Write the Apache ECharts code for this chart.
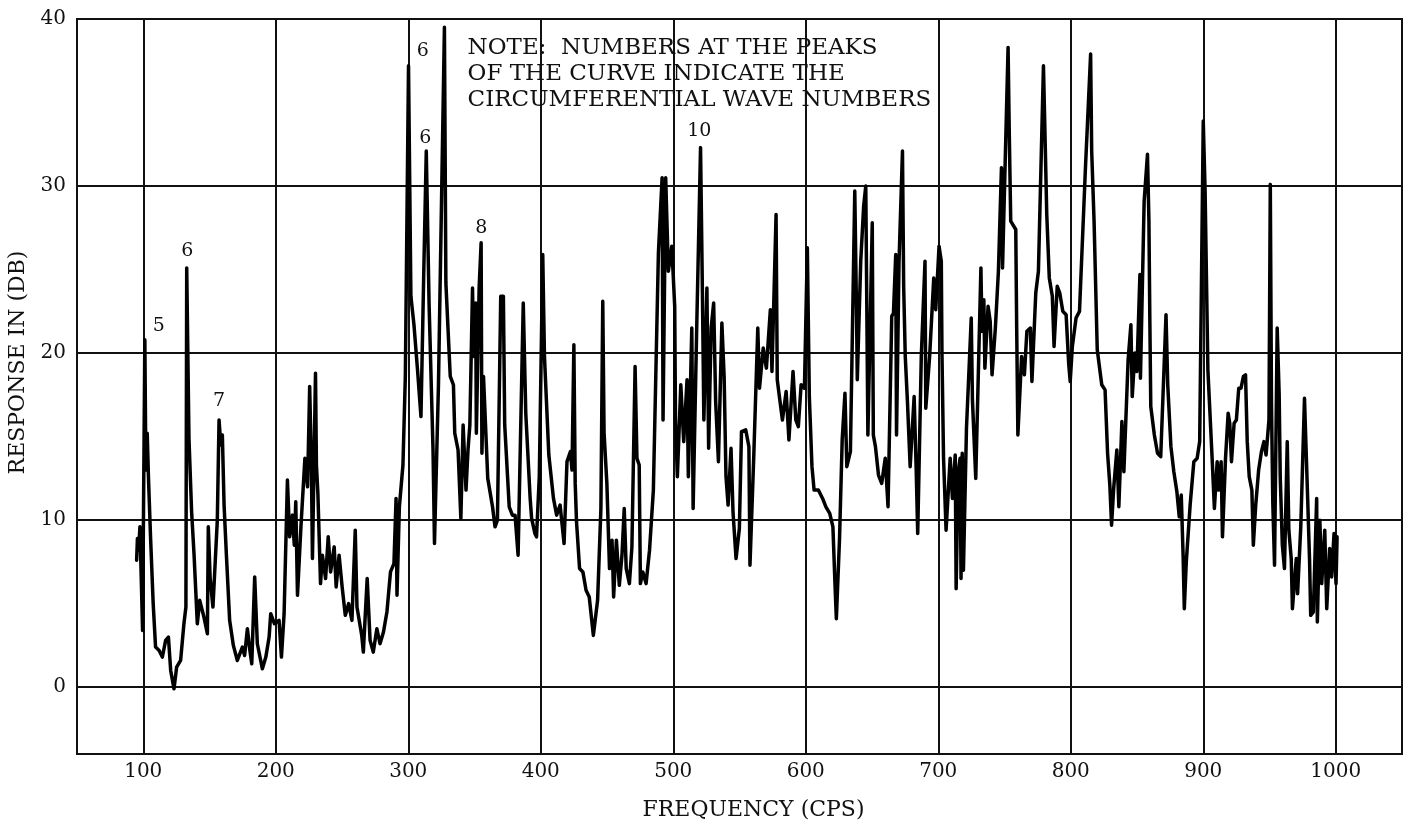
<!DOCTYPE html>
<html>
<head>
<meta charset="utf-8">
<script src="https://cdn.jsdelivr.net/npm/echarts@6/dist/echarts.min.js"></script>
<style>
html,body{margin:0;padding:0;background:#fff;}
#chart{width:1412px;height:820px;}
</style>
</head>
<body>
<div id="chart"></div>
<script>
// ---- data (frequency in CPS, response in DB) ----
const curveA = [[95,7.6],[95.6,8.9],[96.5,8.2],[97.5,9.6],[99.5,3.4],[101.2,20.8],[102,13],[103,15.2],[104,12.4],[105.5,9],[107.5,5],[109.3,2.4],[112,2.2],[114.4,1.8],[116.9,2.8],[119,3.0],[120.7,1.0],[123.2,-0.1],[125.2,1.2],[128.2,1.6],[130.7,3.8],[132.2,4.8],[132.8,25.1],[134.5,14.9],[136.5,10.5],[138.3,8],[140.8,3.8],[142.6,5.2],[145.8,4.2],[148.4,3.2],[149.1,9.6],[150.5,6.5],[152.6,4.8],[155.9,10],[157.2,16],[158.5,14.5],[159.7,15.1],[161,10.9],[162.7,8],[165.2,4],[168,2.5],[171,1.6],[174.8,2.4],[176.5,1.9],[178.6,3.5],[180.5,2.2],[181.9,1.4],[184.1,6.6],[186.1,2.6],[189.9,1.1],[192.5,1.8],[195,3],[196.2,4.4],[199,3.8],[202.5,4],[204.3,1.8],[206.3,4.4],[208.8,12.4],[210.5,9],[212.6,10.3],[214,8.5],[215.1,11.1]];
const curveB = [[216.4,5.5],[219,9.6],[222,13.7],[224,12],[225.6,18],[226.9,13.3],[227.7,7.7],[230,18.8],[230.7,13.3],[231.8,11.6],[233.8,6.2],[235.2,7.9],[237.6,6.5],[239.6,9],[241.4,6.9],[244.1,8.4],[245.6,6],[247.8,7.9],[250.1,6],[252.5,4.3],[255,5],[257.5,4],[260,9.4],[261.3,4.8],[264.9,3.1],[266.1,2.1],[269,6.5],[271.2,2.8],[273.6,2.1],[276.3,3.5],[278.7,2.6],[281.3,3.3],[283.9,4.5],[286.6,6.9],[289.2,7.4],[290.8,11.3],[291.5,5.5],[293.3,10.8],[296,13.3],[297.8,18.6],[300.2,37.2],[302,23.4],[304.3,21.7],[307,19],[309.6,16.2],[311.6,24.4],[313.6,32.1],[315.7,23],[318.7,14.2],[319.8,8.6],[322.8,18.1],[327.3,39.5],[328.4,24.2],[331.7,18.6],[334.1,18.1],[335.1,15.2],[337.6,14.2],[339.7,10.1],[341.4,15.7],[343.6,11.8],[345.1,14.2],[346.5,15.7],[348.5,23.9],[349.4,19.8],[350.9,23],[351.4,15.2],[353.5,23.9],[355,26.6],[355.6,14],[356.8,18.6],[360,12.5],[363.6,10.8],[365.5,9.6],[367.3,10],[369.8,23.4],[371.8,23.4],[372.8,15.7],[376.2,10.8],[378.6,10.3],[380.6,10.3],[382.9,7.9],[386.8,23],[388.7,16.4]];
const curveC = [[392,11.3],[393.1,10.1],[395.6,9.2],[396.8,9],[398.9,12.6],[401.5,25.9],[402.8,19.8],[406.1,13.9],[409.6,11.3],[412,10.3],[414.6,10.9],[417.6,8.6],[419.8,13.5],[422.4,14.1],[423.6,13],[425,20.5],[426,12.2],[427,9.9],[429.3,7.1],[431.8,6.9],[434.2,5.8],[436.6,5.4],[439.7,3.1],[442.9,5.2],[445.4,10.7],[446.8,23.1],[447.8,15.2],[449.9,12.2],[451.9,7.1],[453.8,8.8],[455,5.4],[457.1,8.8],[459.3,6.1],[461.3,7.9],[463,10.7],[464.5,7.1],[466.9,6.2],[468.8,8.4],[471.2,19.2],[472.6,13.7],[474.3,13.3],[475.2,6.2],[477,6.9],[479.5,6.2],[482.1,8.2],[485,11.8],[488.8,26],[491.6,30.5],[492.3,16],[494.3,30.5],[496.3,24.9],[498.9,26.4],[501.1,22.8],[501.7,16],[503.1,12.6],[505.7,18.1],[507.9,14.7],[510.4,18.4],[511.4,12.6],[514,21.5],[515,10.7],[517.6,21.1],[520.6,32.3],[522,23.7],[523.1,16],[525.4,23.9],[526.7,14.3],[528.6,21.5],[530.5,23],[532,17.1],[534.1,13.5],[536.7,21.8],[538.4,18.6],[539.8,12.6],[541.4,10.9],[543.6,14.3],[545.1,10.5],[547.4,7.7],[549.9,9.5],[551.5,15.3],[554.7,15.4]];
const curveD = [[557.1,14.4],[557.9,7.3],[560.8,13.9],[563.8,21.5],[565.1,17.9],[567.9,20.3],[570.3,19.1],[573.3,22.6],[574.5,18.9],[577.6,28.3],[578.5,18.4],[580.1,17.4],[582.4,16],[585.2,17.7],[587.3,14.8],[590.4,18.9],[592.5,16],[594.4,15.6],[596.5,18.1],[599,17.9],[601.2,26.3],[602.7,17.4],[604.7,13.2],[606.3,11.8],[609.5,11.8],[612.7,11.3],[615.2,10.8],[618.1,10.4],[620.5,9.6],[622.1,6.1],[623.1,4.1],[625.5,8.9],[627.5,14.8],[629.6,17.6],[631,13.2],[633.7,14.1],[637,29.7],[638.3,22.6],[638.9,18.4],[641.5,25.5],[643.7,28.8],[645.3,30],[646.1,22.6],[646.9,15.1],[650.2,27.8],[651,15.1],[652.6,14.4],[654.9,12.7],[657.3,12.2],[660,13.7],[662.1,10.8],[664.9,22.2],[666.2,22.4],[667.9,25.9],[668.5,15.1],[670.4,25.5],[673,32.1],[673.9,24],[675.1,19.8],[676.8,17],[678.8,13.2],[681.8,17.4],[683.3,13.2],[684.5,9.2],[687.2,19.8],[690,25.5],[690.6,16.7],[693.5,19.8],[696.6,24.5],[698.1,22.6],[700.6,26.4],[702.3,25.5],[702.8,20],[704,13.7],[705.9,9.4],[709,13.7],[710.7,11.3],[712.8,13.9],[713.5,5.9],[715,12.9],[716.5,13.7],[717.2,6.5],[718.1,14],[719,7],[721.3,15.5]];
const curveE = [[724.9,22.1],[725.8,17.2],[727,17.2],[728.3,12.5],[732.2,25.1],[733,21.3],[734.4,23.2],[735.2,19.1],[737.6,22.8],[739.2,21.9],[740.6,18.7],[743.1,21.5],[745.4,24.9],[747.7,31.1],[748.5,25.1],[752.7,38.3],[753.6,33.2],[754.7,27.9],[758.5,27.4],[759.2,21.5],[760.1,15.1],[762.9,19.8],[765,18.7],[766.9,21.3],[769.5,21.5],[770.7,18.3],[773.6,23.6],[775.6,24.9],[779.4,37.2],[780.7,32.6],[781.9,28.3],[783.8,24.5],[786.1,23.4],[787.4,20.4],[789.8,24],[791.7,23.6],[794,22.5],[796.5,22.3],[798.5,19.3],[799.6,18.3],[801.2,20.4],[804,22.1],[806.6,22.5],[811.1,31.1],[815,37.9],[815.8,32.1],[817.6,27.9],[820,20.2],[823.4,18.1],[825.9,17.8],[827.8,14],[829.5,12.1],[830.8,9.7],[832.4,11.9],[834.8,14.2],[836.3,10.8],[838.6,15.9],[840.1,12.9],[843.3,19.6],[845.4,21.7],[846.4,17.4],[848.4,20],[849.9,18.9],[852.2,24.7],[852.6,18.5],[855.4,29.1],[857.9,31.9],[859,27.9],[859.7,21.9],[860.4,16.8],[863.1,15.1],[865.5,14],[867.9,13.8],[871.9,22.3],[873.2,18.1],[875.6,14.4],[877.8,12.9],[880.1,11.7],[881.9,10.2],[883.4,11.5],[884.8,7.9],[885.7,4.7],[887.2,7.5],[890.1,10.9]];
const curveF = [[892.9,13.5],[895.4,13.7],[897.3,14.7],[900,33.9],[901.4,29.7],[903.5,19],[906.7,13.7],[908.4,10.7],[910.5,13.5],[911.6,11.8],[913.5,13.5],[914.5,9],[916.8,13.7],[918.8,16.4],[920,15.8],[921.3,13.5],[923.3,15.8],[925,16],[926.8,17.9],[928.5,17.9],[930.3,18.6],[931.9,18.7],[933.2,14.7],[934.7,12.6],[936.7,11.8],[937.8,8.5],[939.6,10.9],[941.8,13],[943.9,14.1],[945.8,14.7],[947.4,13.9],[949.6,16],[950.6,30.1],[951.5,17],[952.5,11],[953.8,7.3],[955.8,21.5],[957.3,17.5],[958.1,12.6],[959.7,8.5],[961.3,7.1],[963.4,14.7],[964.6,9.4],[966.4,7.7],[967.3,4.7],[970.2,7.7],[971.2,5.6],[973.6,9.6],[974.7,12.6],[976.4,17.3],[977.6,14.3],[978.8,11.3],[980.2,7.7],[981.1,4.3],[983.1,4.5],[985.6,11.3],[986.1,3.9],[988,10],[989.4,6.2],[991.7,9.4],[993.2,4.7],[995.4,8.3],[996.9,6.6],[998.7,9.2],[1000.2,6.2],[1001,9]];

const freqTicks = [100,200,300,400,500,600,700,800,900,1000];
const dbTicks = [0,10,20,30,40];

// circumferential wave numbers written at the peaks
const waveNumbers = ['5','6','7','6','6','8','10'];
const waveFreq    = [111.8,133.2,157.2,310.9,312.9,355.1,519.6];
const waveDb      = [21.6,26.1,17.1,38.1,32.9,27.5,33.3];

const noteLines = ['NOTE:  NUMBERS AT THE PEAKS','OF THE CURVE INDICATE THE','CIRCUMFERENTIAL WAVE NUMBERS'];
const noteFreq = 344.8, noteDb = 39.05;

// ---- chart ----
const curve = [].concat(curveA, curveB, curveC, curveD, curveE, curveF);
const serif = 'DejaVu Serif';
const ink = '#111';

const chart = echarts.init(document.getElementById('chart'), null, {renderer:'canvas'});
const markData = waveNumbers.map((t,i)=>({
  coord:[waveFreq[i], waveDb[i]], value:t,
  label:{formatter:t}
}));
markData.push({
  coord:[noteFreq, noteDb], value:'note',
  label:{formatter:noteLines.join('\n'), align:'left', verticalAlign:'top', lineHeight:26, fontSize:23}
});

chart.setOption({
  animation:false,
  backgroundColor:'#fff',
  grid:{left:77, right:10, top:19, bottom:66, containLabel:false, outerBoundsMode:'none',
        show:true, borderColor:ink, borderWidth:2, backgroundColor:'transparent'},
  xAxis:{
    type:'value', min:50, max:1050,
    name:'FREQUENCY (CPS)', nameLocation:'middle', nameGap:45,
    nameTextStyle:{fontFamily:serif, fontSize:22, color:ink, padding:[0,0,0,28]},
    axisLine:{show:true, onZero:false, lineStyle:{color:ink, width:2}},
    axisTick:{show:false, customValues:freqTicks},
    axisLabel:{customValues:freqTicks, fontFamily:serif, fontSize:20, color:ink, margin:8, formatter:v=>String(v)},
    splitLine:{show:true, lineStyle:{color:ink, width:2}}
  },
  yAxis:{
    type:'value', min:-4, max:40,
    name:'RESPONSE IN (DB)', nameLocation:'middle', nameGap:46, nameRotate:90,
    nameTextStyle:{fontFamily:serif, fontSize:22, color:ink, padding:[0,0,0,48]},
    axisLine:{show:true, onZero:false, lineStyle:{color:ink, width:2}},
    axisTick:{show:false, customValues:dbTicks},
    axisLabel:{customValues:dbTicks, fontFamily:serif, fontSize:20, color:ink, margin:11, formatter:v=>String(v)},
    splitLine:{show:true, lineStyle:{color:ink, width:2}}
  },
  series:[{
    type:'line', data:curve, showSymbol:false, smooth:false,
    lineStyle:{color:'#000', width:3.5, join:'round', cap:'round'},
    z:5,
    markPoint:{
      symbol:'circle', symbolSize:0,
      itemStyle:{color:'transparent'},
      label:{show:true, position:'inside', fontFamily:serif, fontSize:19, color:ink},
      data:markData
    }
  }]
});
</script>
</body>
</html>
